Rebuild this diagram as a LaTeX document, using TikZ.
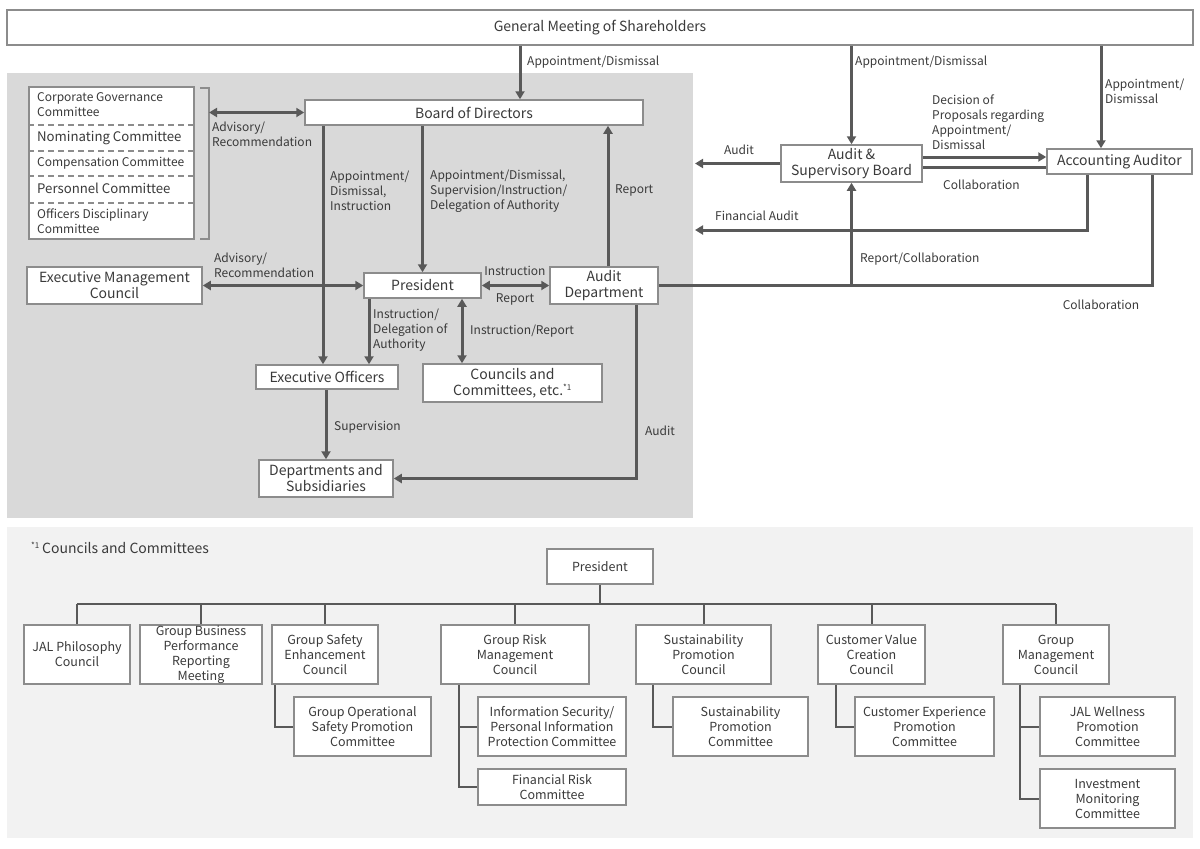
\documentclass[tikz,border=0pt]{standalone}
\usepackage{fontspec}
\setmainfont{Noto Sans CJK JP}
\usetikzlibrary{arrows.meta}

\definecolor{panelgray}{HTML}{D9D9D9}
\definecolor{panellight}{HTML}{F2F2F2}
\definecolor{linegray}{HTML}{595959}
\definecolor{boxgray}{HTML}{8C8C8C}
\definecolor{textgray}{HTML}{3A3A3A}

\newcommand{\lblfont}{\fontsize{12}{15}\selectfont}
\newcommand{\boxfont}{\fontsize{14}{17}\selectfont}
\newcommand{\subfont}{\fontsize{12.5}{15}\selectfont}
\newcommand{\cmtfont}{\fontsize{12}{15}\selectfont}
\newcommand{\cmtbigfont}{\fontsize{13.2}{15}\selectfont}

\begin{document}
\begin{tikzpicture}[
    x=1pt, y=-1pt,
    every node/.style={text=textgray},
    boxsize/.style 2 args={minimum width=#1pt, minimum height=#2pt},
    box/.style={draw=boxgray, line width=1.5pt, fill=white, align=center,
        inner sep=0pt, font=\boxfont},
    subbox/.style={box, font=\subfont},
    lbl/.style={font=\lblfont, align=left, anchor=west, inner sep=0pt},
    arr/.style={draw=linegray, line width=3pt, -{Triangle[length=8pt,width=9pt]}},
    dbl/.style={draw=linegray, line width=3pt,
        {Triangle[length=8pt,width=9pt]}-{Triangle[length=8pt,width=9pt]}},
    ln/.style={draw=linegray, line width=3pt},
    tree/.style={draw=linegray, line width=2pt},
]
\useasboundingbox (0,0) rectangle (1200,849);

% === Panels ===
\fill[panelgray] (7,73) rectangle (693,518);
\fill[panellight] (7,527) rectangle (1193,838);

% === Top row ===
\node[box, boxsize={1186}{35}] (gms) at (600,27.5) {General Meeting of Shareholders};

% === Governance part ===
\node[box, boxsize={338}{25}] (bod) at (474,112.5) {Board of Directors};
\node[box, boxsize={141}{37}] (asb) at (851.5,163.5) {Audit \&\\[-1pt]Supervisory Board};
\node[box, boxsize={145}{25}] (aa) at (1119.5,161.5) {Accounting Auditor};

% committees stack with dashed separators
\node[box, boxsize={165}{152}] (cmts) at (111.5,163) {};
\foreach \ysep in {125,151,176,203} {
    \draw[boxgray, line width=1.5pt, dash pattern=on 6pt off 4pt]
        (cmts.west |- 0,\ysep) -- (cmts.east |- 0,\ysep);
}
\node[lbl, font=\cmtfont] (cgc) at (37,104.5) {Corporate Governance\\Committee};
\node[lbl, font=\cmtbigfont] (nom) at (37,138) {Nominating Committee};
\node[lbl, font=\cmtfont] (cmp) at (37,163) {Compensation Committee};
\node[lbl, font=\cmtbigfont] (per) at (37,188) {Personnel Committee};
\node[lbl, font=\cmtfont] (odc) at (37,221.5) {Officers Disciplinary\\Committee};
% bracket
\draw[boxgray, line width=1.5pt] (200,88) -- (209,88) -- (209,239) -- (200,239);
\coordinate (brk) at (209,112.5);

% === Executive part ===
\node[box, boxsize={175}{37}] (emc) at (114.5,285.5) {Executive Management\\[-1pt]Council};
\node[box, boxsize={117}{25}] (pres) at (422.5,285.5) {President};
\node[box, boxsize={108}{37}] (aud) at (604,285.5) {Audit\\[-1pt]Department};
\node[box, boxsize={142}{24}] (eo) at (327,377) {Executive Officers};
\node[box, boxsize={179}{38}] (ccs) at (512.5,383) {Councils and\\[-1pt]Committees, etc.\textsuperscript{\footnotesize*1}};
\node[box, boxsize={134}{37}] (dep) at (326,478.5) {Departments and\\[-1pt]Subsidiaries};

% helper coordinates
\coordinate (xA) at (520,0);
\coordinate (xB) at (323,0);
\coordinate (xC) at (608,0);
\coordinate (xD) at (369,0);
\coordinate (xE) at (462,0);
\coordinate (xF) at (326,0);
\coordinate (xG) at (636,0);
\coordinate (xH) at (1101,0);
\coordinate (xI) at (1087,0);
\coordinate (xJ) at (1152,0);
\coordinate (pnlE) at (695,0);
\coordinate (yDec) at (0,157);
\coordinate (yCol) at (0,167);
\coordinate (finC) at (695,230);

% === Connectors ===
\draw[arr] (gms.south -| xA) -- (bod.north -| xA);
\draw[arr] (gms.south -| asb.north) -- (asb.north);
\draw[arr] (gms.south -| xH) -- (aa.north -| xH);
\draw[dbl] (brk) -- (bod.west);
\draw[arr] (bod.south -| xB) -- (eo.north -| xB);
\draw[arr] (bod.south -| pres.north) -- (pres.north);
\draw[arr] (aud.north -| xC) -- (bod.south -| xC);
\draw[dbl] (emc.east) -- (pres.west);
\draw[dbl] (pres.east) -- (aud.west);
\draw[arr] (pres.south -| xD) -- (eo.north -| xD);
\draw[dbl] (pres.south -| xE) -- (ccs.north -| xE);
\draw[arr] (eo.south -| xF) -- (dep.north -| xF);
\draw[arr] (aud.south -| xG) |- (dep.east);
\draw[arr] (asb.west) -- (asb.west -| pnlE);
\draw[arr] (asb.east |- yDec) -- (aa.west |- yDec);
\draw[ln] (asb.east |- yCol) -- (aa.west |- yCol);
\draw[arr] (aa.south -| xI) |- (finC);
\draw[ln] (aud.east) -| (aa.south -| xJ);
\draw[arr] (aud.east -| asb.south) -- (asb.south);

% === Connector labels ===
\node[lbl] (l1) at (527,62) {Appointment/Dismissal};
\node[lbl] (l2) at (855,62) {Appointment/Dismissal};
\node[lbl] (l3) at (1105,91.5) {Appointment/\\Dismissal};
\node[lbl] (l4) at (212,134) {Advisory/\\Recommendation};
\node[lbl] (l5) at (330,191) {Appointment/\\Dismissal,\\Instruction};
\node[lbl] (l6) at (430,191) {Appointment/Dismissal,\\Supervision/Instruction/\\Delegation of Authority};
\node[lbl] (l7) at (615,190) {Report};
\node[lbl, anchor=center] (l8) at (739,150) {Audit};
\node[lbl] (l9) at (932,122.5) {Decision of\\Proposals regarding\\Appointment/\\Dismissal};
\node[lbl] (l10) at (943,185) {Collaboration};
\node[lbl] (l11) at (715,216) {Financial Audit};
\node[lbl] (l12) at (860,259) {Report/Collaboration};
\node[lbl, anchor=center] (l13) at (1101,305) {Collaboration};
\node[lbl] (l14) at (214,265) {Advisory/\\Recommendation};
\node[lbl, anchor=center] (l15) at (515,271) {Instruction};
\node[lbl, anchor=center] (l16) at (515,299) {Report};
\node[lbl] (l17) at (373,330) {Instruction/\\Delegation of\\Authority};
\node[lbl] (l18) at (470,331) {Instruction/Report};
\node[lbl] (l19) at (334,427) {Supervision};
\node[lbl] (l20) at (645,431) {Audit};

% === Councils and Committees (lower panel) ===
\node[lbl, font=\boxfont] (note) at (31,548) {\textsuperscript{\footnotesize*1}\,Councils and Committees};
\node[subbox, boxsize={106}{35}] (pres2) at (600,566.5) {President};

\node[subbox, boxsize={106}{59}] (c1) at (77,654.5) {JAL Philosophy\\Council};
\node[subbox, boxsize={122}{59}] (c2) at (201,654.5) {Group Business\\Performance\\Reporting\\Meeting};
\node[subbox, boxsize={106}{59}] (c3) at (325,654.5) {Group Safety\\Enhancement\\Council};
\node[subbox, boxsize={148}{59}] (c4) at (515,654.5) {Group Risk\\Management\\Council};
\node[subbox, boxsize={135}{59}] (c5) at (703.5,654.5) {Sustainability\\Promotion\\Council};
\node[subbox, boxsize={107}{59}] (c6) at (871.5,654.5) {Customer Value\\Creation\\Council};
\node[subbox, boxsize={106}{59}] (c7) at (1056,654.5) {Group\\Management\\Council};

\node[subbox, boxsize={137}{59}] (s1) at (362.5,726.5) {Group Operational\\Safety Promotion\\Committee};
\node[subbox, boxsize={148}{59}] (s2) at (552,726.5) {Information Security/\\Personal Information\\Protection Committee};
\node[subbox, boxsize={148}{36}] (s3) at (552,787) {Financial Risk\\Committee};
\node[subbox, boxsize={135}{59}] (s4) at (740.5,726.5) {Sustainability\\Promotion\\Committee};
\node[subbox, boxsize={139}{59}] (s5) at (924.5,726.5) {Customer Experience\\Promotion\\Committee};
\node[subbox, boxsize={135}{59}] (s6) at (1107.5,726.5) {JAL Wellness\\Promotion\\Committee};
\node[subbox, boxsize={135}{59}] (s7) at (1107.5,798.5) {Investment\\Monitoring\\Committee};

% tree lines
\coordinate (bus) at (600,604);
\draw[tree] (pres2.south) -- (bus);
\draw[tree] (bus -| c1.north) -- (bus -| c7.north);
\foreach \cn in {c1,c2,c3,c4,c5,c6,c7} {
    \draw[tree] (bus -| \cn.north) -- (\cn.north);
}
\draw[tree] ([xshift=4pt]c3.south west) |- (s1.west);
\draw[tree] ([xshift=19pt]c4.south west) |- (s2.west);
\draw[tree] ([xshift=19pt]c4.south west) |- (s3.west);
\draw[tree] ([xshift=18pt]c5.south west) |- (s4.west);
\draw[tree] ([xshift=19pt]c6.south west) |- (s5.west);
\draw[tree] ([xshift=18pt]c7.south west) |- (s6.west);
\draw[tree] ([xshift=18pt]c7.south west) |- (s7.west);

\end{tikzpicture}
\end{document}
